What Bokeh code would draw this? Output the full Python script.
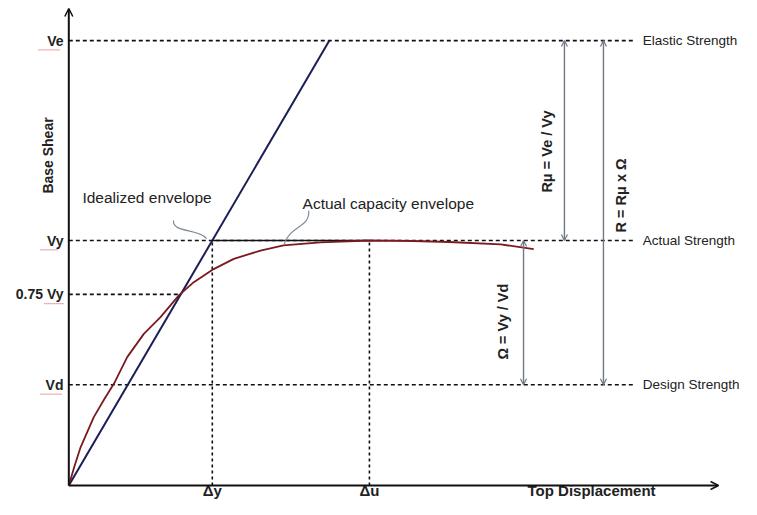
from bokeh.plotting import figure
from bokeh.models import Arrow, OpenHead, Range1d
from bokeh.core.properties import value
from bokeh.embed import file_html
from bokeh.resources import INLINE

# ---- data (normalised: yield displacement Δy = 1, yield strength Vy = 1) ----
level_labels = ["Ve", "Vy", "0.75 Vy", "Vd"]
level_values = [1.816, 1.0, 0.78, 0.411]

strength_labels = ["Elastic Strength", "Actual Strength", "Design Strength"]
strength_values = [1.816, 1.0, 0.411]

disp_labels = ["Δy", "Δu"]
disp_values = [1.0, 2.095]

curve_x = [0.0, 0.04, 0.082, 0.174, 0.25, 0.314, 0.407, 0.523, 0.639, 0.767, 0.871, 0.999,
           1.150, 1.336, 1.496, 1.754, 2.095, 2.40, 2.65, 3.01, 3.24]
curve_y = [0.0, 0.08, 0.156, 0.279, 0.355, 0.415, 0.524, 0.619, 0.687, 0.776, 0.830, 0.880,
           0.925, 0.959, 0.980, 0.992, 1.0, 0.998, 0.994, 0.984, 0.965]

elastic_x = [0.0, 1.816]
elastic_y = [0.0, 1.816]

ideal_x = [1.0, 2.095]
ideal_y = [1.0, 1.0]

ratio_labels = ["Rμ = Ve / Vy", "R = Rμ x Ω", "Ω = Vy / Vd"]

TXT = "#222222"
FONT = value("Liberation Sans")

p = figure(width=741, height=499, output_backend="svg", toolbar_location=None,
           x_range=Range1d(-0.476, 4.688), y_range=Range1d(-0.0571, 1.9796),
           min_border=0, outline_line_color=None)
p.xaxis.visible = False
p.yaxis.visible = False
p.grid.visible = False

x_dash_end = 3.949

# dashed horizontal levels
for lv in [level_values[0], level_values[1], level_values[3]]:
    p.line([0, x_dash_end], [lv, lv], line_color="#111111", line_width=1.6, line_dash="4 3")
p.line([0, 0.767], [level_values[2], level_values[2]], line_color="#111111", line_width=1.6, line_dash="4 3")
# dashed verticals
for dv in disp_values:
    p.line([dv, dv], [0, level_values[1]], line_color="#111111", line_width=1.6, line_dash="3 3")

# elastic / idealized lines
p.line(elastic_x, elastic_y, line_color="#1a1e55", line_width=2)
p.line(ideal_x, ideal_y, line_color="#111111", line_width=1.6)
# actual capacity curve
p.line(curve_x, curve_y, line_color="#7a1a1f", line_width=1.8, line_join="round")

# axes with arrow heads
p.add_layout(Arrow(end=OpenHead(size=8, line_color="#111111", line_width=1.5),
                   x_start=0, y_start=0, x_end=0, y_end=1.947,
                   line_color="#111111", line_width=2))
p.add_layout(Arrow(end=OpenHead(size=8, line_color="#111111", line_width=1.5),
                   x_start=0, y_start=0, x_end=4.528, y_end=0,
                   line_color="#111111", line_width=2))

# ratio arrows (double-headed, gray)
GR = "#6f7884"
for ax, y0, y1 in [(3.454, level_values[1], level_values[0]),
                   (3.726, level_values[3], level_values[0]),
                   (3.169, level_values[3], level_values[1])]:
    p.add_layout(Arrow(start=OpenHead(size=6, line_color=GR, line_width=1.2),
                       end=OpenHead(size=6, line_color=GR, line_width=1.2),
                       x_start=ax, y_start=y0, x_end=ax, y_end=y1,
                       line_color=GR, line_width=1.4))

# connectors (curly leaders)
CN = "#7d8a97"
p.bezier(x0=[0.73, 1.672], y0=[1.082, 1.122], x1=[0.96, 1.50], y1=[1.008, 0.984],
         cx0=[0.72, 1.68], cy0=[1.03, 1.05], cx1=[0.90, 1.545], cy1=[1.05, 1.065],
         line_color=CN, line_width=1.2)

# left level labels
p.text(x=[-0.037] * 4, y=level_values, text=level_labels, text_align="right",
       text_baseline="middle", text_font=FONT, text_font_size="14px",
       text_font_style="bold", text_color=TXT)
# red spell-check squiggles under V labels
for yv, x0, x1 in [(level_values[0], -0.211, -0.058), (level_values[1], -0.197, -0.072),
                   (level_values[2], -0.17, -0.03), (level_values[3], -0.197, -0.045)]:
    p.line([x0, x1], [yv - 0.038, yv - 0.038], line_color="#d04040", line_width=1, line_dash="1 1")

# y-axis title
p.text(x=[-0.148], y=[1.347], text=["Base Shear"], angle=1.5708, text_align="center",
       text_baseline="middle", text_font=FONT, text_font_size="14px",
       text_font_style="bold", text_color=TXT)

# bottom labels
p.text(x=disp_values, y=[-0.055] * 2, text=disp_labels, text_align="center",
       text_baseline="bottom", text_font=FONT, text_font_size="15px",
       text_font_style="bold", text_color=TXT)
p.text(x=[3.643], y=[-0.055], text=["Top Displacement"], text_align="center",
       text_baseline="bottom", text_font=FONT, text_font_size="15px",
       text_font_style="bold", text_color=TXT)

# right strength labels
p.text(x=[4.0] * 3, y=strength_values, text=strength_labels, text_align="left",
       text_baseline="middle", text_font=FONT, text_font_size="13.5px", text_color=TXT)

# envelope annotations
p.text(x=[0.095], y=[1.176], text=["Idealized envelope"], text_align="left",
       text_baseline="middle", text_font=FONT, text_font_size="15.5px", text_color=TXT)
p.text(x=[1.629], y=[1.151], text=["Actual capacity envelope"], text_align="left",
       text_baseline="middle", text_font=FONT, text_font_size="15.5px", text_color=TXT)

# rotated ratio labels
p.text(x=[3.336, 3.845, 3.029], y=[1.363, 1.184, 0.669], text=ratio_labels, angle=1.5708,
       text_align="center", text_baseline="middle", text_font=FONT, text_font_size="14.5px",
       text_font_style="bold", text_color=TXT)

open("out.html", "w").write(file_html(p, INLINE))
